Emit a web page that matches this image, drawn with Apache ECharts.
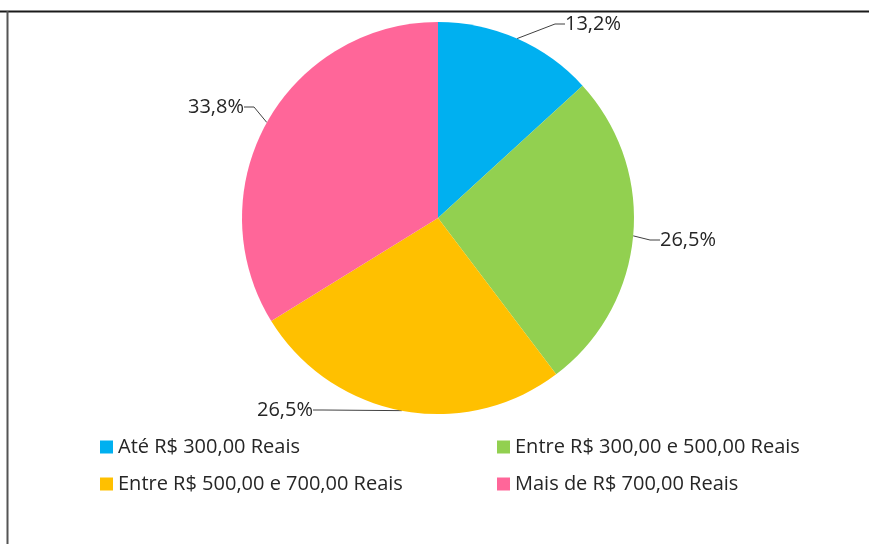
<!DOCTYPE html>
<html>
<head>
<meta charset="utf-8">
<script src="https://cdn.jsdelivr.net/npm/echarts@6/dist/echarts.min.js"></script>
<style>
    html, body { margin: 0; padding: 0; background: #fff; }
    #chart { width: 869px; height: 544px; }
</style>
</head>
<body>
<div id="chart"></div>
<script>
    // faixas de renda e percentuais
    var categories = [
        'Até R$ 300,00 Reais',
        'Entre R$ 300,00 e 500,00 Reais',
        'Entre R$ 500,00 e 700,00 Reais',
        'Mais de R$ 700,00 Reais'
    ];
    var values = [13.2, 26.5, 26.5, 33.8];
    var colors = ['#00b0f0', '#92d050', '#ffc000', '#ff6699'];

    // posicao dos rotulos (como no Excel)
    var labelPos = [
        {x: 565, y: 24, align: 'left'},
        {x: 660, y: 240, align: 'left'},
        {x: 313, y: 410, align: 'right'},
        {x: 244, y: 107, align: 'right'}
    ];

    var fontFamily = '"Open Sans", "Noto Sans", sans-serif';

    var pieData = categories.map(function (name, i) {
        return {name: name, value: values[i], itemStyle: {color: colors[i]}};
    });

    var legendText = {fontSize: 20, lineHeight: 22, color: '#262626', fontFamily: fontFamily};

    var chart = echarts.init(document.getElementById('chart'));
    var option = {
        animation: false,
        color: colors,
        graphic: [
            {
                type: 'line',
                shape: {x1: 0, y1: 11.5, x2: 869, y2: 11.5},
                style: {stroke: '#1a1a1a', lineWidth: 2}
            },
            {
                type: 'line',
                shape: {x1: 7.5, y1: 11, x2: 7.5, y2: 544},
                style: {stroke: '#555', lineWidth: 2}
            }
        ],
        legend: [
            {
                orient: 'vertical',
                left: 100,
                top: 436,
                padding: 0,
                itemWidth: 13,
                itemHeight: 13,
                itemGap: 15,
                icon: 'rect',
                data: [categories[0], categories[2]],
                textStyle: legendText
            },
            {
                orient: 'vertical',
                left: 497,
                top: 436,
                padding: 0,
                itemWidth: 13,
                itemHeight: 13,
                itemGap: 15,
                icon: 'rect',
                data: [categories[1], categories[3]],
                textStyle: legendText
            }
        ],
        series: [
            {
                type: 'pie',
                center: [438, 218],
                radius: 196,
                startAngle: 90,
                clockwise: true,
                data: pieData,
                itemStyle: {borderWidth: 0},
                label: {
                    show: true,
                    position: 'outside',
                    fontSize: 20,
                    color: '#262626',
                    fontFamily: fontFamily,
                    formatter: function (p) {
                        return p.value.toFixed(1).replace('.', ',') + '%';
                    }
                },
                labelLine: {
                    show: true,
                    length: 10,
                    length2: 10,
                    lineStyle: {color: '#404040', width: 1}
                },
                labelLayout: function (params) {
                    var lp = labelPos[params.dataIndex];
                    return {x: lp.x, y: lp.y, align: lp.align, verticalAlign: 'middle'};
                }
            }
        ]
    };
    chart.setOption(option);
</script>
</body>
</html>
